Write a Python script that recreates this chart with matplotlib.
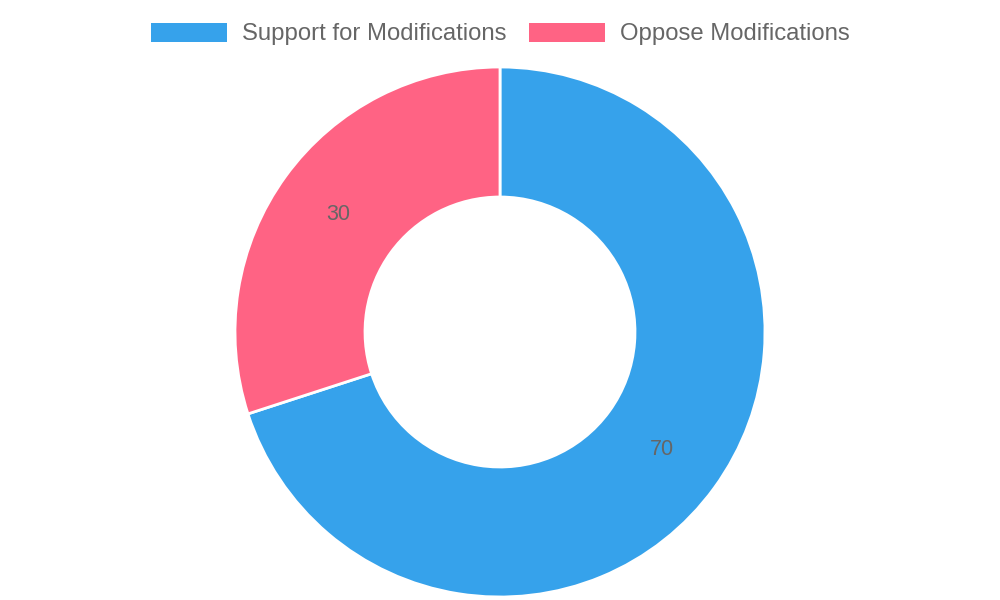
import matplotlib.pyplot as plt

# Data
labels = ["Support for Modifications", "Oppose Modifications"]
values = [70, 30]
colors = ["#36A2EB", "#FF6384"]

plt.rcParams["font.family"] = ["Liberation Sans", "DejaVu Sans"]

fig = plt.figure(figsize=(10, 6), dpi=100)
# axes in pixel-like coordinates
ax = fig.add_axes([0, 0, 1, 1])

outer = 265
inner = 135
wedges, texts, autotexts = ax.pie(
    values,
    colors=colors,
    startangle=90,
    counterclock=False,
    center=(500, 600 - 332),
    radius=outer,
    autopct=lambda p: f"{p * sum(values) / 100:.0f}",
    pctdistance=(outer + inner) / 2 / outer,
    wedgeprops=dict(width=outer - inner, edgecolor="white", linewidth=2),
    textprops=dict(color="#666666", fontsize=15.5),
    frame=True,
)
ax.set_xlim(0, 1000)
ax.set_ylim(0, 600)
ax.set_aspect("equal")
ax.axis("off")

leg = fig.legend(
    wedges, labels,
    loc="center", bbox_to_anchor=(0.5, 1 - 34 / 600),
    ncol=2, frameon=False, fontsize=17.2,
    handlelength=3.2, handleheight=0.85, handletextpad=0.6,
    columnspacing=0.95, labelcolor="#666666",
)
for h in leg.legend_handles:
    h.set_linewidth(0)

fig.savefig("out.png", dpi=100)
